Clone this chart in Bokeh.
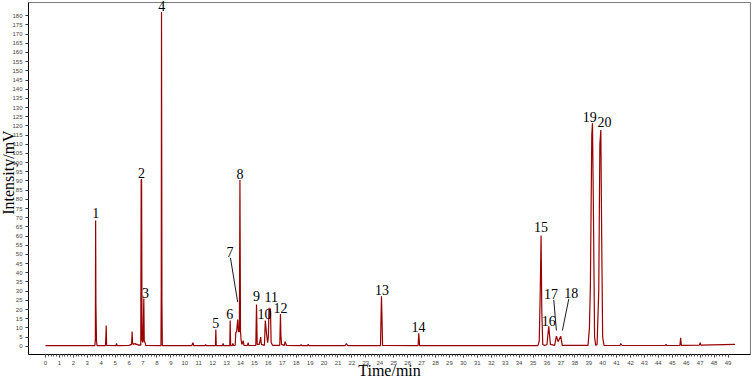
import math
from bokeh.plotting import figure
from bokeh.models import Range1d, FixedTicker, ColumnDataSource
from bokeh.core.properties import value
from bokeh.embed import file_html
from bokeh.resources import INLINE

# ---- chromatogram trace (time in min, intensity in mV) ----
time_min = [
    0.0, 3.50, 3.55, 3.58, 3.60, 3.62, 3.66, 3.70,
    4.30, 4.33, 4.36, 4.39,
    5.05, 5.10, 5.15,
    6.00, 6.18, 6.22, 6.25, 6.30, 6.45, 6.50, 6.55, 6.65, 6.70,
    6.84, 6.87, 6.90, 6.93, 7.00, 7.06, 7.09, 7.15, 7.20,
    8.29, 8.31, 8.33, 8.36, 8.39,
    10.50, 10.58, 10.65, 11.45, 11.50, 11.55,
    12.20, 12.23, 12.26, 12.70, 12.75, 12.80,
    13.23, 13.26, 13.29, 13.40, 13.45, 13.50,
    13.62, 13.66, 13.72, 13.80, 13.85, 13.92, 13.96, 14.00, 14.05, 14.10, 14.20, 14.25,
    14.50, 14.55, 14.60,
    15.10, 15.15, 15.20, 15.35, 15.45, 15.50,
    15.72, 15.78, 15.83, 15.88, 15.95, 16.00, 16.05, 16.10, 16.15, 16.20, 16.30,
    16.82, 16.87, 16.90, 16.95, 17.15, 17.20, 17.30,
    18.30, 18.35, 18.40, 18.80, 18.86, 18.92, 21.50, 21.60, 21.70,
    24.05, 24.12, 24.16, 24.20,
    26.75, 26.80, 26.86,
    35.35, 35.45, 35.52, 35.58, 35.63, 35.70, 35.80,
    36.00, 36.13, 36.25,
    36.55, 36.68, 36.80, 36.99, 37.10,
    38.95, 39.05, 39.12, 39.22, 39.27, 39.33, 39.42, 39.50,
    39.60, 39.72, 39.80, 39.87, 39.93, 40.00, 40.10,
    41.25, 41.30, 41.40, 44.50, 44.55, 44.60,
    45.55, 45.60, 45.65, 46.95, 47.00, 47.05, 49.50,
]
intensity_mv = [
    0.3, 0.3, 0.6, 4.0, 68.5, 23.0, 3.0, 0.3,
    0.3, 4.0, 11.3, 0.4,
    0.3, 1.5, 0.3,
    0.5, 1.0, 8.0, 2.0, 1.0, 1.5, 0.8, 1.2, 0.6, 0.8,
    0.6, 90.5, 91.0, 3.0, 2.0, 26.0, 3.0, 2.0, 0.4,
    0.3, 30.0, 182.0, 24.0, 0.3,
    0.3, 2.0, 0.3, 0.3, 1.0, 0.3,
    0.3, 9.1, 0.3, 0.3, 1.5, 0.3,
    0.3, 14.0, 0.3, 0.3, 1.5, 0.4,
    0.5, 7.5, 8.0, 14.5, 8.0, 8.0, 90.6, 8.0, 3.0, 1.0, 3.0, 0.5,
    0.4, 2.0, 0.4,
    0.5, 22.7, 1.0, 1.0, 5.0, 1.0,
    0.5, 14.0, 10.0, 6.0, 2.0, 5.0, 21.0, 15.0, 20.5, 2.0, 0.5,
    0.5, 17.6, 6.0, 1.0, 0.5, 2.5, 0.4,
    0.3, 1.0, 0.3, 0.3, 1.0, 0.3, 0.3, 1.5, 0.3,
    0.3, 27.2, 15.0, 0.4,
    0.3, 7.0, 0.3,
    0.3, 3.0, 30.0, 60.3, 20.0, 1.0, 0.5,
    0.8, 10.9, 1.0,
    0.5, 5.5, 2.5, 5.5, 0.5,
    0.5, 10.0, 33.0, 115.0, 121.5, 80.0, 5.0, 0.5,
    1.0, 30.0, 110.0, 117.8, 60.0, 5.0, 0.5,
    0.4, 1.5, 0.4, 0.4, 1.0, 0.4,
    0.5, 4.6, 0.5, 0.6, 2.0, 0.6, 1.0,
]

# ---- peak numbers and the centre of each number label ----
peak_ids = [str(i) for i in range(1, 21)]
label_time = [3.61, 6.90, 7.18, 8.35, 12.23, 13.23, 13.24, 13.97, 15.15, 15.72,
              16.20, 16.87, 24.15, 26.78, 35.58, 36.13, 36.30, 37.74, 39.07, 40.13]
label_mv = [72.8, 94.1, 29.2, 185.4, 12.7, 17.6, 51.2, 93.9, 27.1, 17.3,
            26.7, 20.9, 30.9, 10.3, 64.8, 14.0, 28.5, 28.9, 125.1, 122.0]

# leader lines for peaks 7, 17 and 18
leader_t0 = [13.28, 36.49, 37.57]
leader_v0 = [48.1, 25.3, 25.8]
leader_t1 = [13.80, 36.68, 37.11]
leader_v1 = [24.0, 8.6, 8.6]

x_ticks = list(range(0, 50))
y_ticks = list(range(0, 185, 5))

# ---- layout: the plot frame fills the canvas, the axes sit at fixed places in it ----
W, H = 753, 380
X0, X1 = -1.22, 50.61          # left axis / right border (min)
Y0, Y1 = -4.52, 187.2          # bottom axis / top border (mV)
VIEW_X = (-3.23, 50.83)        # visible time span across the canvas
VIEW_Y = (-18.65, 188.3)       # visible intensity span down the canvas
px_per_min = W / (VIEW_X[1] - VIEW_X[0])
px_per_mv = H / (VIEW_Y[1] - VIEW_Y[0])

p = figure(width=W, height=H, output_backend="svg", toolbar_location=None,
           x_range=Range1d(*VIEW_X), y_range=Range1d(*VIEW_Y),
           min_border_left=0, min_border_right=0,
           min_border_top=0, min_border_bottom=0)
p.grid.visible = False
p.outline_line_color = None
p.background_fill_color = "white"
p.border_fill_color = "white"

# box border (top and right)
p.line(x=[X0, X1, X1], y=[Y1, Y1, Y0], line_color="#7a7a7a", line_width=1)

p.line(time_min, intensity_mv, line_color="#990000", line_width=1.2)

src = ColumnDataSource(dict(x=label_time, y=label_mv, t=peak_ids))
p.text(x="x", y="y", text="t", source=src, text_font=value("Liberation Serif"),
       text_font_size="14px", text_align="center", text_baseline="middle",
       text_color="black")
p.segment(x0=leader_t0, y0=leader_v0, x1=leader_t1, y1=leader_v1,
          line_color="black", line_width=0.9)

# x-axis
xa = p.xaxis[0]
xa.fixed_location = Y0
xa.bounds = (X0, X1)
xa.ticker = FixedTicker(ticks=x_ticks, minor_ticks=[t / 5 for t in range(0, 49 * 5 + 1)])
xa.major_label_text_font = "Liberation Sans"
xa.major_label_text_font_size = "6px"
xa.major_label_text_color = "#444444"
xa.major_tick_out = 3
xa.major_tick_in = 0
xa.minor_tick_out = 2
xa.minor_tick_in = 0
xa.major_label_standoff = 3
xa.axis_line_color = "black"
xa.major_tick_line_color = "#333333"
xa.minor_tick_line_color = "#555555"

# y-axis
ya = p.yaxis[0]
ya.fixed_location = X0
ya.bounds = (Y0, Y1)
ya.ticker = FixedTicker(ticks=y_ticks, minor_ticks=[])
ya.major_label_text_font = "Liberation Sans"
ya.major_label_text_font_size = "6px"
ya.major_label_text_color = "#444444"
ya.major_tick_out = 3
ya.major_tick_in = 0
ya.minor_tick_out = 0
ya.minor_tick_in = 0
ya.major_label_standoff = 3
ya.axis_line_color = "black"
ya.major_tick_line_color = "#333333"

# axis titles
p.text(x=[24.7], y=[Y0 - 16 / px_per_mv], text=["Time/min"],
       text_font=value("Liberation Serif"), text_font_size="16px",
       text_align="center", text_baseline="middle", text_color="black")
p.text(x=[X0 - 19.5 / px_per_min], y=[94.6], text=["Intensity/mV"], angle=math.pi / 2,
       text_font=value("Liberation Serif"), text_font_size="16px",
       text_align="center", text_baseline="middle", text_color="black")

open("out.html", "w").write(file_html(p, INLINE))
